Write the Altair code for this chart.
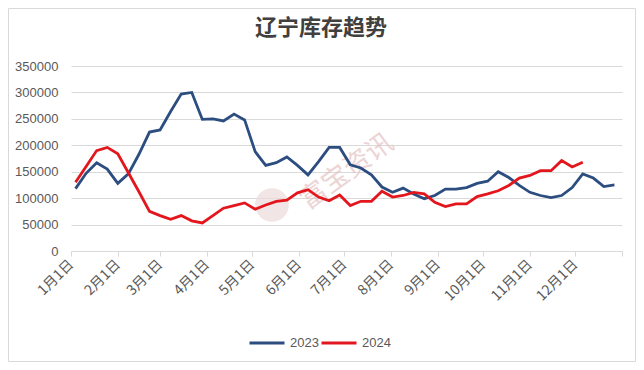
import altair as alt
import pandas as pd

chart_title = "辽宁库存趋势"
watermark = "富宝资讯"
series_names = ["2023", "2024"]
series_colors = ["#2C4D80", "#E3161D"]

first_week = "2023-01-04"
values_2023 = [118000, 147000, 167000, 155000, 128000, 146000, 183000, 225000, 229000, 264000,
               297000, 300000, 249000, 250000, 246000, 259000, 248000, 188000, 162000, 167000,
               178000, 162000, 144000, 169000, 196000, 196000, 163000, 157000, 144000, 121000,
               111000, 119000, 108000, 99000, 105000, 117000, 117000, 120000, 128000, 132000,
               150000, 139000, 124000, 111000, 105000, 101000, 105000, 120000, 146000, 138000,
               122000, 125000]
values_2024 = [130000, 160000, 190000, 196000, 184000, 148000, 112000, 75000, 67000, 60000,
               67000, 57000, 53000, 67000, 81000, 86000, 91000, 79000, 87000, 94000,
               96000, 110000, 116000, 102000, 95000, 106000, 86000, 94000, 94000, 113000,
               102000, 105000, 111000, 108000, 92000, 84000, 89000, 89000, 103000, 108000,
               114000, 124000, 138000, 143000, 152000, 152000, 171000, 159000, 168000]

month_starts = [0, 31, 59, 90, 120, 151, 181, 212, 243, 273, 304, 334, 365]
month_labels = ["1月1日", "2月1日", "3月1日", "4月1日", "5月1日", "6月1日",
                "7月1日", "8月1日", "9月1日", "10月1日", "11月1日", "12月1日"]
y_ticks = [0, 50000, 100000, 150000, 200000, 250000, 300000, 350000]

week_dates = pd.date_range(first_week, periods=len(values_2023), freq="7D")
week_days = [(d - pd.Timestamp("2023-01-01")).days for d in week_dates]

rows = []
for name, vals in zip(series_names, [values_2023, values_2024]):
    for i, v in enumerate(vals):
        rows.append({"day": week_days[i], "value": v, "series": name})
df = pd.DataFrame(rows)

W, H = 551, 185
PAD_L, PAD_T, PAD_R, PAD_B = 63, 58, 14, 111

starts_js = "[" + ",".join(str(m) for m in month_starts) + "]"
labels_js = "[" + ",".join("'" + s + "'" for s in month_labels) + "]"
label_expr = (f"indexof({starts_js}, datum.value) >= 0 && indexof({starts_js}, datum.value) < {len(month_labels)}"
              f" ? {labels_js}[indexof({starts_js}, datum.value)] : ''")

color = alt.Color(
    "series:N",
    scale=alt.Scale(domain=series_names, range=series_colors),
    legend=alt.Legend(
        title=None, orient="none", legendX=177, legendY=258, direction="horizontal",
        symbolType="stroke", symbolSize=1225, symbolStrokeWidth=3,
        labelFontSize=13, labelColor="#595959", labelFont="Liberation Sans",
        labelOffset=4, columnPadding=-4,
    ),
)

lines = alt.Chart(df).mark_line(strokeWidth=2.8).encode(
    x=alt.X("day:Q",
            scale=alt.Scale(domain=[0, 365], nice=False, zero=False),
            axis=alt.Axis(title=None, values=month_starts, labelExpr=label_expr,
                          grid=False, domainColor="#d9d9d9", tickColor="#d9d9d9", tickSize=5,
                          labelAngle=315, labelAlign="right", labelBaseline="middle",
                          labelPadding=6, labelFontSize=14, labelColor="#595959",
                          labelFont="Noto Sans CJK SC", labelOverlap=False)),
    y=alt.Y("value:Q",
            scale=alt.Scale(domain=[0, 350000], nice=False),
            axis=alt.Axis(title=None, values=y_ticks, format="d", domain=False, ticks=False,
                          gridColor="#d9d9d9", labelPadding=13, labelFontSize=13,
                          labelColor="#595959", labelFont="Liberation Sans")),
    color=color,
    order=alt.Order("day:Q"),
)

one = pd.DataFrame({"t": [chart_title], "w": [watermark]})

title = alt.Chart(one).mark_text(
    fontSize=22, fontWeight="bold", color="#404040", font="Noto Sans CJK SC",
    align="center", baseline="middle",
).encode(text="t:N", x=alt.value(250), y=alt.value(-38))

logo = alt.Chart(one).mark_circle(size=1130, color="#eddada", opacity=0.7).encode(
    x=alt.value(201), y=alt.value(139))

wm = alt.Chart(one).mark_text(
    fontSize=27, color="#e6c3c3", opacity=0.7, font="Noto Sans CJK SC",
    angle=324, align="center", baseline="middle",
).encode(text="w:N", x=alt.value(276), y=alt.value(106))

border = alt.Chart(one).mark_rect(fill="transparent", stroke="#d9d9d9", strokeWidth=1).encode(
    x=alt.value(-62.5), x2=alt.value(W + PAD_R - 0.5), y=alt.value(-57.5), y2=alt.value(H + PAD_B - 0.5))

chart = alt.layer(border, logo, wm, lines, title).properties(
    width=W, height=H,
    autosize=alt.AutoSizeParams(type="none"),
    padding={"left": PAD_L, "top": PAD_T, "right": PAD_R, "bottom": PAD_B},
    background="white",
).configure_view(stroke=None)

chart.save("out.html", embed_options={"renderer": "svg", "actions": False})
